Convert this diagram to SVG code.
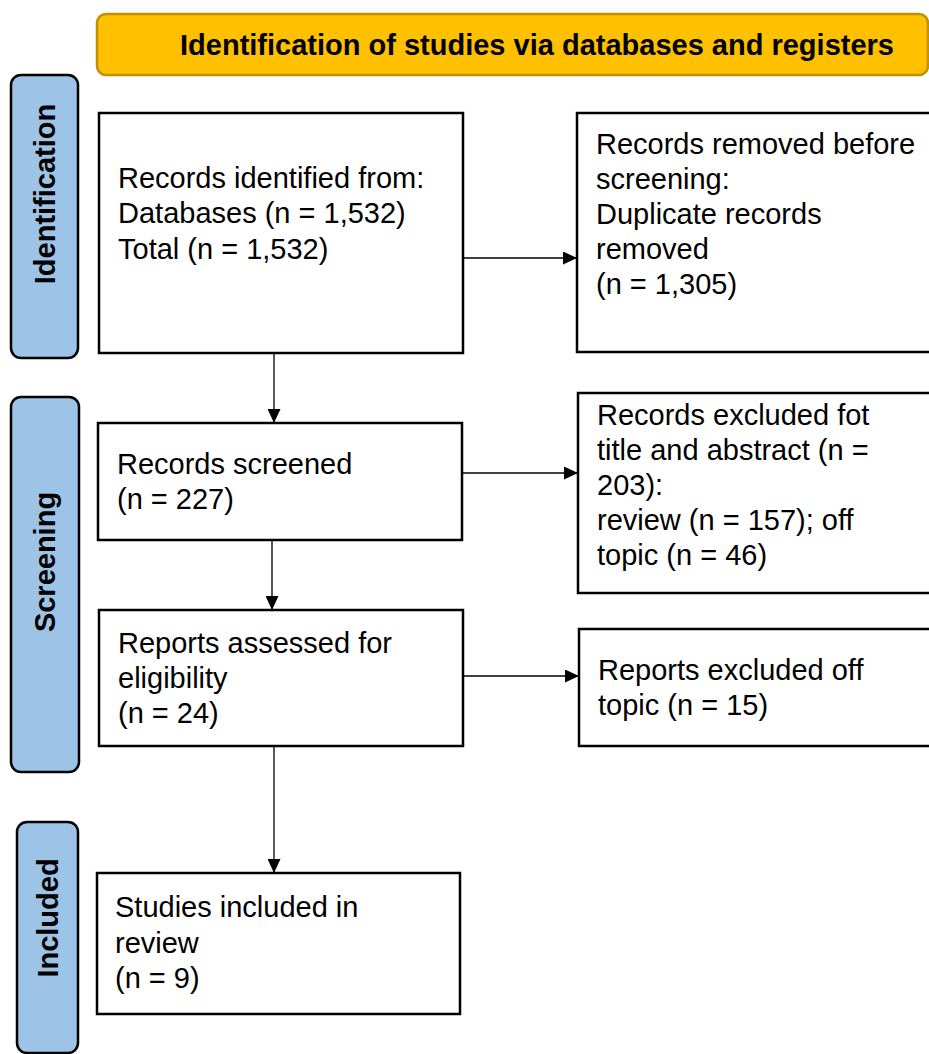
<svg xmlns="http://www.w3.org/2000/svg" width="929" height="1054" viewBox="0 0 929 1054">
<style>
.box{fill:#fff;stroke:#000;stroke-width:2.5}
.side{fill:#9DC3E6;stroke:#000;stroke-width:2.5}
.hdr{fill:#FFC000;stroke:#BF9000;stroke-width:2.5}
.t{font-family:"Liberation Sans",Arial,sans-serif;font-size:29px;fill:#000}
.b{font-family:"Liberation Sans",Arial,sans-serif;font-size:29px;font-weight:bold;fill:#000}
.c{stroke:#000;stroke-width:1.3;fill:none;marker-end:url(#ah)}
</style>
<defs>
<marker id="ah" viewBox="0 0 14 13" refX="14" refY="6.5" markerWidth="14" markerHeight="13" markerUnits="userSpaceOnUse" orient="auto">
<path d="M0,0 L14,6.5 L0,13 Z" fill="#000"/>
</marker>
</defs>
<g id="header">
<rect class="hdr" x="97" y="14" width="831" height="61" rx="9"/>
<text class="b" x="537" y="55" text-anchor="middle">Identification of studies via databases and registers</text>
</g>
<g id="label-identification">
<rect class="side" x="11" y="75" width="67" height="283" rx="10"/>
<text class="b" transform="translate(55,194) rotate(-90)" text-anchor="middle">Identification</text>
</g>
<g id="label-screening">
<rect class="side" x="11" y="397" width="68" height="375" rx="10"/>
<text class="b" transform="translate(55,562) rotate(-90)" text-anchor="middle">Screening</text>
</g>
<g id="label-included">
<rect class="side" x="17" y="822" width="61" height="231" rx="10"/>
<text class="b" transform="translate(58,918) rotate(-90)" text-anchor="middle">Included</text>
</g>
<g id="records-identified">
<rect class="box" x="99" y="113" width="364" height="240"/>
<text class="t" x="118" y="188">Records identified from:</text>
<text class="t" x="118" y="223">Databases (n = 1,532)</text>
<text class="t" x="118" y="259">Total (n = 1,532)</text>
</g>
<g id="records-removed">
<rect class="box" x="577" y="113" width="360" height="239"/>
<text class="t" x="596" y="154">Records removed before</text>
<text class="t" x="596" y="189">screening:</text>
<text class="t" x="596" y="224">Duplicate records</text>
<text class="t" x="596" y="259">removed</text>
<text class="t" x="596" y="294">(n = 1,305)</text>
</g>
<g id="records-screened">
<rect class="box" x="98" y="423" width="364" height="117"/>
<text class="t" x="117" y="474">Records screened</text>
<text class="t" x="117" y="509">(n = 227)</text>
</g>
<g id="records-excluded">
<rect class="box" x="578" y="393" width="360" height="200"/>
<text class="t" x="597" y="425">Records excluded fot</text>
<text class="t" x="597" y="460">title and abstract (n =</text>
<text class="t" x="597" y="495">203):</text>
<text class="t" x="597" y="530">review (n = 157); off</text>
<text class="t" x="597" y="565">topic (n = 46)</text>
</g>
<g id="reports-assessed">
<rect class="box" x="99" y="610" width="364" height="136"/>
<text class="t" x="118" y="653">Reports assessed for</text>
<text class="t" x="118" y="688">eligibility</text>
<text class="t" x="118" y="723">(n = 24)</text>
</g>
<g id="reports-excluded">
<rect class="box" x="579" y="629" width="360" height="117"/>
<text class="t" x="598" y="680">Reports excluded off</text>
<text class="t" x="598" y="715">topic (n = 15)</text>
</g>
<g id="studies-included">
<rect class="box" x="97" y="873" width="363" height="141"/>
<text class="t" x="115" y="917">Studies included in</text>
<text class="t" x="115" y="953">review</text>
<text class="t" x="115" y="988">(n = 9)</text>
</g>
<g id="connectors">
<path class="c" d="M463,258 H577"/>
<path class="c" d="M274,354 V423"/>
<path class="c" d="M462,473 H578"/>
<path class="c" d="M272,541 V610"/>
<path class="c" d="M463,676 H579"/>
<path class="c" d="M274,747 V873"/>
</g>
</svg>
